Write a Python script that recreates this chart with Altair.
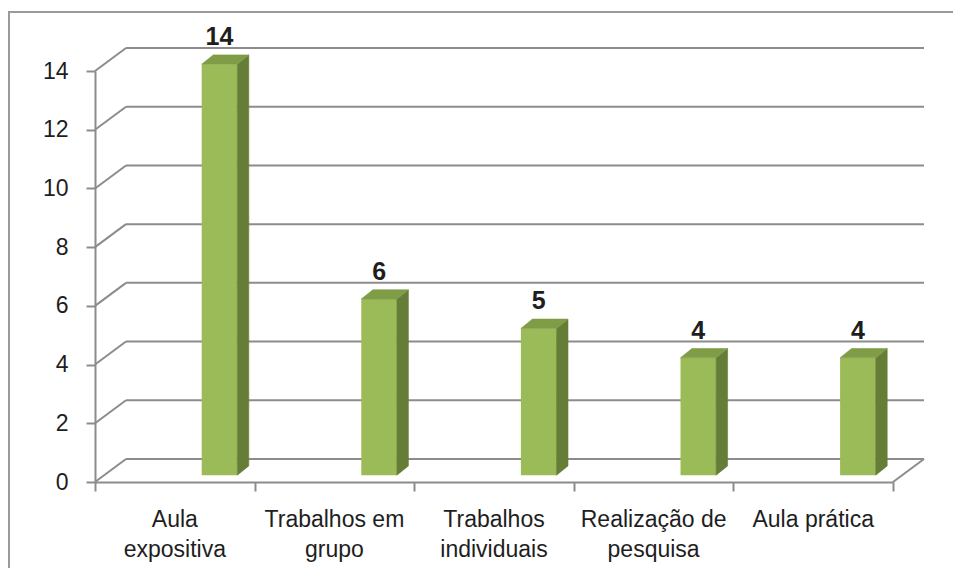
import altair as alt
import pandas as pd

# ---- data ----
categories = ["Aula expositiva", "Trabalhos em grupo", "Trabalhos individuais",
              "Realização de pesquisa", "Aula prática"]
label_lines = ["Aula\nexpositiva", "Trabalhos em\ngrupo", "Trabalhos\nindividuais",
               "Realização de\npesquisa", "Aula prática"]
values = [14, 6, 5, 4, 4]
y_ticks = [0, 2, 4, 6, 8, 10, 12, 14]

# ---- layout / style constants ----
W, H = 798, 411
N = len(categories)
Y_MAX = 14
SLOT = W / N
UNIT = H / Y_MAX
FONT = "Liberation Sans"
GRAY = "#8c8c8c"
TEXT = "#1e1e1e"
FRONT = "#9bbb59"
SIDE = "#667d37"
TOP = "#7f9c46"


def px_x(p):
    return p / SLOT


def px_y(p):
    return p / UNIT


FL = px_x(106.7)    # front face left inside slot
FW = px_x(35.6)     # front face width
DDX = px_x(11.5)    # bar depth (x)
DDY = px_y(9.3)     # bar depth (y)
LIFT = -6.8         # bar plane lift in px
WALL_DX = px_x(31)  # back wall depth (x)
WALL_DY = -23       # back wall depth (y, px)

x_scale = alt.Scale(domain=[0, N], nice=False, zero=False)
y_scale = alt.Scale(domain=[0, Y_MAX], nice=False)

AX_X = alt.Axis(values=list(range(N + 1)), labels=False, title=None,
                grid=False, tickSize=9, tickWidth=2, tickColor=GRAY,
                domainColor=GRAY, domainWidth=2)
AX_Y = alt.Axis(values=y_ticks, title=None, grid=False, tickSize=9,
                tickWidth=2, tickColor=GRAY, domainColor=GRAY,
                domainWidth=2, labelFontSize=23, labelFont=FONT,
                labelColor=TEXT, labelPadding=18)

# ---- derived tables ----
bars = pd.DataFrame({
    "cat": categories,
    "value": values,
    "idx": range(N),
})
bars["x0"] = bars["idx"] + FL
bars["x1"] = bars["idx"] + FL + FW
bars["xc"] = bars["idx"] + FL + FW / 2
bars["zero"] = 0

rows = []
for i, v in enumerate(values):
    xl = i + FL
    xr = i + FL + FW
    # side face
    rows.append(dict(key=f"s{i}", color=SIDE, px=xr, py=v, py2=0))
    rows.append(dict(key=f"s{i}", color=SIDE, px=xr + DDX, py=v + DDY, py2=DDY))
    # top face
    rows.append(dict(key=f"t{i}", color=TOP, px=xl, py=v, py2=v))
    rows.append(dict(key=f"t{i}", color=TOP, px=xl + DDX, py=v + DDY, py2=v))
    rows.append(dict(key=f"t{i}", color=TOP, px=xr, py=v + DDY, py2=v))
    rows.append(dict(key=f"t{i}", color=TOP, px=xr + DDX, py=v + DDY, py2=v + DDY))
faces = pd.DataFrame(rows)

ticks = pd.DataFrame({"t": y_ticks})
labels = pd.DataFrame({"lab": label_lines, "xc": [i + 0.5 for i in range(N)]})

# ---- layers ----
frame = alt.Chart(pd.DataFrame({"a": [0]})).mark_rect(
    fillOpacity=0, stroke="#9a9a9a", strokeWidth=2
).encode(
    x=alt.value(-86), x2=alt.value(900), y=alt.value(-59), y2=alt.value(700)
)

back_grid = alt.Chart(ticks).mark_rule(
    color=GRAY, strokeWidth=2, yOffset=WALL_DY, y2Offset=WALL_DY
).encode(
    x=alt.X(datum=WALL_DX, scale=x_scale, axis=AX_X),
    x2=alt.X2(datum=N + WALL_DX),
    y=alt.Y("t:Q", scale=y_scale, axis=AX_Y),
)

left_diag = alt.Chart(ticks).mark_rule(
    color=GRAY, strokeWidth=2, y2Offset=WALL_DY
).encode(
    x=alt.X(datum=0, scale=x_scale, axis=AX_X),
    x2=alt.X2(datum=WALL_DX),
    y=alt.Y("t:Q", scale=y_scale, axis=AX_Y),
    y2=alt.Y2("t"),
)

right_diag = alt.Chart(pd.DataFrame({"a": [0]})).mark_rule(
    color=GRAY, strokeWidth=2, y2Offset=WALL_DY
).encode(
    x=alt.X(datum=N, scale=x_scale, axis=AX_X),
    x2=alt.X2(datum=N + WALL_DX),
    y=alt.Y(datum=0, scale=y_scale, axis=AX_Y),
    y2=alt.Y2(datum=0),
)

front = alt.Chart(bars).mark_rect(
    color=FRONT, yOffset=LIFT, y2Offset=LIFT
).encode(
    x=alt.X("x0:Q", scale=x_scale, axis=AX_X),
    x2=alt.X2("x1"),
    y=alt.Y("value:Q", scale=y_scale, axis=AX_Y),
    y2=alt.Y2("zero"),
)

depth = alt.Chart(faces).mark_area(
    orient="vertical", yOffset=LIFT, y2Offset=LIFT, strokeWidth=0.6
).encode(
    x=alt.X("px:Q", scale=x_scale, axis=AX_X),
    y=alt.Y("py:Q", scale=y_scale, axis=AX_Y, stack=None),
    y2=alt.Y2("py2"),
    color=alt.Color("color:N", scale=None),
    stroke=alt.Stroke("color:N", scale=None),
    detail="key:N",
)

value_text = alt.Chart(bars).mark_text(
    font=FONT, fontSize=25, fontWeight="bold", color=TEXT,
    baseline="alphabetic", align="center", dy=-26
).encode(
    x=alt.X("xc:Q", scale=x_scale, axis=AX_X),
    y=alt.Y("value:Q", scale=y_scale, axis=AX_Y),
    text=alt.Text("value:Q"),
)

cat_text = alt.Chart(labels).mark_text(
    font=FONT, fontSize=23, color=TEXT, baseline="alphabetic", align="center",
    lineBreak="\n", lineHeight=30
).encode(
    x=alt.X("xc:Q", scale=x_scale, axis=AX_X),
    y=alt.value(455.7),
    text="lab:N",
)

chart = alt.layer(
    frame, back_grid, left_diag, right_diag, front, depth, value_text, cat_text
).properties(
    width=W, height=H,
    autosize=alt.AutoSizeParams(type="none"),
    padding={"left": 87, "top": 63, "right": 60, "bottom": 86},
).configure_view(stroke=None)

chart.save("out.html", embed_options={"renderer": "svg", "actions": False})
